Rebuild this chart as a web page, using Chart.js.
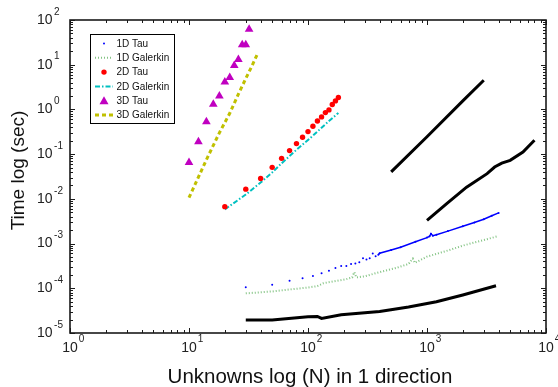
<!DOCTYPE html>
<html>
<head>
<meta charset="utf-8">
<script src="https://cdn.jsdelivr.net/npm/chart.js@4.4.1/dist/chart.umd.min.js"></script>
<style>
  html, body { margin: 0; padding: 0; background: #fff; }
  #wrap { width: 558px; height: 387px; }
</style>
</head>
<body>
<div id="wrap"><canvas id="chart"></canvas></div>
<script>
/* ================= DATA ================= */
const xTickPowers = [0, 1, 2, 3, 4];
const yTickPowers = [-5, -4, -3, -2, -1, 0, 1, 2];

const tau1dN = [30, 50, 70, 90, 110, 130, 150, 170, 190, 210, 230, 250, 270, 290, 310, 330, 350, 370, 390,
  400, 500, 600, 800, 1000, 1050, 1080, 1120, 1200, 1500, 2000, 2500, 3000, 3500, 4000];
const tau1dT = [1.05e-4, 1.2e-4, 1.47e-4, 1.67e-4, 1.89e-4, 2.16e-4, 2.48e-4, 2.85e-4, 3.16e-4, 3.16e-4,
  3.5e-4, 3.6e-4, 3.8e-4, 4.7e-4, 4.4e-4, 4.7e-4, 6.0e-4, 5.2e-4, 5.6e-4,
  6.1e-4, 7.2e-4, 8.3e-4, 1.1e-3, 1.36e-3, 1.45e-3, 1.66e-3, 1.5e-3, 1.58e-3, 1.9e-3, 2.45e-3, 2.95e-3, 3.5e-3, 4.2e-3, 4.85e-3];

const gal1dN = [30, 50, 70, 100, 120, 135, 170, 210, 235, 245, 255, 300, 400, 550, 700, 760, 790, 1000, 1500, 2000, 3000, 3900];
const gal1dT = [7.7e-5, 8.5e-5, 9.4e-5, 1.04e-4, 1.12e-4, 1.3e-4, 1.45e-4, 1.6e-4, 1.75e-4, 2.3e-4, 1.75e-4,
  1.85e-4, 2.3e-4, 2.85e-4, 3.5e-4, 4.6e-4, 3.7e-4, 5.1e-4, 7.0e-4, 9.0e-4, 1.2e-3, 1.45e-3];

const tau2dN = [20, 30, 40, 50, 60, 70, 80, 90, 100, 110, 120, 130, 140, 150, 160, 170, 180];
const tau2dT = [0.0067, 0.0165, 0.0286, 0.0506, 0.0805, 0.12, 0.172, 0.238, 0.319, 0.42, 0.552, 0.68, 0.85, 0.975, 1.29, 1.55, 1.85];

const gal2dN = [20, 30, 40, 50, 60, 70, 80, 90, 100, 110, 120, 130, 140, 150, 160, 170, 180];
const gal2dT = [0.0058, 0.0125, 0.0231, 0.039, 0.0624, 0.0908, 0.125, 0.163, 0.207, 0.259, 0.32, 0.39, 0.466, 0.55, 0.638, 0.733, 0.835];

const tau3dN = [10, 12, 14, 16, 18, 20, 22, 24, 26, 28, 30, 32];
const tau3dT = [0.065, 0.19, 0.53, 1.3, 2.0, 4.1, 5.2, 9.6, 13, 28, 28, 62];

const gal3dN = [10, 14, 18, 22, 26, 30, 34, 38];
const gal3dT = [0.0106, 0.075, 0.3, 0.82, 2.2, 4.9, 9.7, 18.5];

const blackLowN = [30, 50, 100, 120, 130, 190, 400, 700, 1200, 2000, 3800];
const blackLowT = [1.95e-5, 1.95e-5, 2.3e-5, 2.35e-5, 2.12e-5, 2.56e-5, 3.03e-5, 3.8e-5, 5.0e-5, 7.1e-5, 1.14e-4];

const blackTopN = [500, 1000, 2000, 3000];
const blackTopT = [0.04, 0.245, 1.55, 4.5];

const blackMidN = [1000, 1465, 2150, 3200, 3700, 4250, 5000, 6400, 8000];
const blackMidT = [3.3e-3, 7.8e-3, 0.0183, 0.0366, 0.0515, 0.063, 0.0726, 0.111, 0.204];

/* ================= HELPERS ================= */
const pts = (xs, ys) => xs.map((x, i) => ({ x, y: ys[i] }));
const FONT = "'Liberation Sans', Arial, sans-serif";

/* ================= PLUGIN: frame, ticks, labels, legend ================= */
const decor = {
  id: "decor",
  afterDraw(chart) {
    const { ctx, chartArea: a, scales: { x, y } } = chart;
    ctx.save();

    // frame
    ctx.strokeStyle = "#1a1a1a";
    ctx.lineWidth = 1.6;
    ctx.strokeRect(a.left, a.top, a.right - a.left, a.bottom - a.top);

    // ticks, inward on all four sides
    ctx.lineWidth = 1;
    ctx.beginPath();
    for (let k = 0; k <= 4; k++) {
      for (let m = 1; m <= 9; m++) {
        const v = m * Math.pow(10, k);
        if (v > 10000) break;
        const px = Math.round(x.getPixelForValue(v)) + 0.5;
        const len = m === 1 ? 5 : 3;
        ctx.moveTo(px, a.bottom); ctx.lineTo(px, a.bottom - len);
        ctx.moveTo(px, a.top); ctx.lineTo(px, a.top + len);
      }
    }
    for (let k = -5; k <= 2; k++) {
      for (let m = 1; m <= 9; m++) {
        const v = m * Math.pow(10, k);
        if (v > 100) break;
        const py = Math.round(y.getPixelForValue(v)) + 0.5;
        const len = m === 1 ? 5 : 3;
        ctx.moveTo(a.left, py); ctx.lineTo(a.left + len, py);
        ctx.moveTo(a.right, py); ctx.lineTo(a.right - len, py);
      }
    }
    ctx.stroke();

    // tick labels
    ctx.fillStyle = "#222";
    ctx.textBaseline = "middle";
    xTickPowers.forEach(p => {
      const px = x.getPixelForValue(Math.pow(10, p));
      ctx.font = `14px ${FONT}`;
      ctx.textAlign = "center";
      ctx.fillText("10", px, 348);
      const w = ctx.measureText("10").width;
      ctx.font = `10px ${FONT}`;
      ctx.textAlign = "left";
      ctx.fillText(String(p), px + w / 2 + 1, 339);
    });
    yTickPowers.forEach(p => {
      const py = y.getPixelForValue(Math.pow(10, p));
      ctx.font = `14px ${FONT}`;
      ctx.textAlign = "left";
      ctx.fillText("10", 37, py);
      const w = ctx.measureText("10").width;
      ctx.font = `10px ${FONT}`;
      ctx.fillText(String(p), 37 + w + 1.5, py - 8);
    });

    // axis titles
    ctx.fillStyle = "#111";
    ctx.textAlign = "center";
    ctx.font = `20.5px ${FONT}`;
    ctx.fillText("Unknowns log (N) in 1 direction", (a.left + a.right) / 2 + 2, 377);
    ctx.font = `19px ${FONT}`;
    ctx.save();
    ctx.translate(19, (a.top + a.bottom) / 2 - 6);
    ctx.rotate(-Math.PI / 2);
    ctx.fillText("Time log (sec)", 0, 0);
    ctx.restore();

    // legend
    const lx = 90, ly = 34, lw = 84, lh = 89;
    ctx.fillStyle = "#fff";
    ctx.fillRect(lx, ly, lw, lh);
    ctx.strokeStyle = "#000";
    ctx.lineWidth = 1;
    ctx.strokeRect(lx + 0.5, ly + 0.5, lw, lh);
    const items = chart.data.datasets.filter(d => d.label);
    items.forEach((d, i) => {
      const cy = 43.5 + i * 14.3;
      ctx.save();
      if (d.legendMarker === "triangle") {
        ctx.fillStyle = d.pointBackgroundColor;
        ctx.beginPath();
        ctx.moveTo(104, cy - 4.5);
        ctx.lineTo(108.5, cy + 3.5);
        ctx.lineTo(99.5, cy + 3.5);
        ctx.closePath();
        ctx.fill();
      } else if (d.legendMarker === "dot") {
        ctx.fillStyle = d.pointBackgroundColor;
        ctx.beginPath();
        ctx.arc(104, cy, d.pointRadius, 0, Math.PI * 2);
        ctx.fill();
      } else {
        ctx.strokeStyle = d.borderColor;
        ctx.lineWidth = d.borderWidth;
        ctx.setLineDash(d.borderDash || []);
        ctx.beginPath();
        ctx.moveTo(95, cy);
        ctx.lineTo(113, cy);
        ctx.stroke();
      }
      ctx.restore();
      ctx.fillStyle = "#111";
      ctx.font = `10px ${FONT}`;
      ctx.textAlign = "left";
      ctx.textBaseline = "middle";
      ctx.fillText(d.label, 116.5, cy + 0.5);
    });

    ctx.restore();
  }
};

/* ================= CHART ================= */
const blue = "#0000ff";

new Chart(document.getElementById("chart"), {
  type: "scatter",
  data: {
    datasets: [
      {
        label: "1D Tau",
        legendMarker: "dot",
        data: pts(tau1dN, tau1dT),
        showLine: true,
        borderColor: blue,
        borderWidth: 1.5,
        pointRadius: 1,
        pointBorderWidth: 0,
        pointBackgroundColor: blue,
        segment: {
          borderColor: c => c.p0.parsed.x >= 390 ? blue : "rgba(0,0,0,0)"
        }
      },
      {
        label: "1D Galerkin",
        data: pts(gal1dN, gal1dT),
        showLine: true,
        borderColor: "rgba(90,175,90,0.75)",
        borderWidth: 2,
        borderDash: [1, 2],
        pointRadius: 0
      },
      {
        label: "2D Tau",
        legendMarker: "dot",
        data: pts(tau2dN, tau2dT),
        showLine: false,
        pointRadius: 2.7,
        pointBorderWidth: 0,
        pointBackgroundColor: "#ff0000"
      },
      {
        label: "2D Galerkin",
        data: pts(gal2dN, gal2dT),
        showLine: true,
        borderColor: "#00c0c0",
        borderWidth: 2,
        borderDash: [5, 2, 1.5, 2],
        pointRadius: 0
      },
      {
        label: "3D Tau",
        legendMarker: "triangle",
        data: pts(tau3dN, tau3dT),
        showLine: false,
        pointStyle: "triangle",
        pointRadius: 5,
        pointBorderWidth: 0,
        pointBackgroundColor: "#c000c0"
      },
      {
        label: "3D Galerkin",
        data: pts(gal3dN, gal3dT),
        showLine: true,
        borderColor: "#c0c000",
        borderWidth: 3,
        borderDash: [4, 3],
        pointRadius: 0
      },
      {
        label: "",
        data: pts(blackLowN, blackLowT),
        showLine: true,
        borderColor: "#000",
        borderWidth: 3,
        pointRadius: 0
      },
      {
        label: "",
        data: pts(blackTopN, blackTopT),
        showLine: true,
        borderColor: "#000",
        borderWidth: 3,
        pointRadius: 0
      },
      {
        label: "",
        data: pts(blackMidN, blackMidT),
        showLine: true,
        borderColor: "#000",
        borderWidth: 3,
        pointRadius: 0
      }
    ]
  },
  options: {
    responsive: true,
    maintainAspectRatio: false,
    animation: false,
    layout: { padding: { left: 70, right: 12, top: 20, bottom: 54 } },
    plugins: { legend: { display: false }, tooltip: { enabled: false } },
    scales: {
      x: {
        type: "logarithmic",
        min: 1,
        max: 10000,
        grid: { display: false, drawTicks: false },
        border: { display: false },
        ticks: { display: false }
      },
      y: {
        type: "logarithmic",
        min: 1e-5,
        max: 100,
        grid: { display: false, drawTicks: false },
        border: { display: false },
        ticks: { display: false }
      }
    }
  },
  plugins: [decor]
});
</script>
</body>
</html>
